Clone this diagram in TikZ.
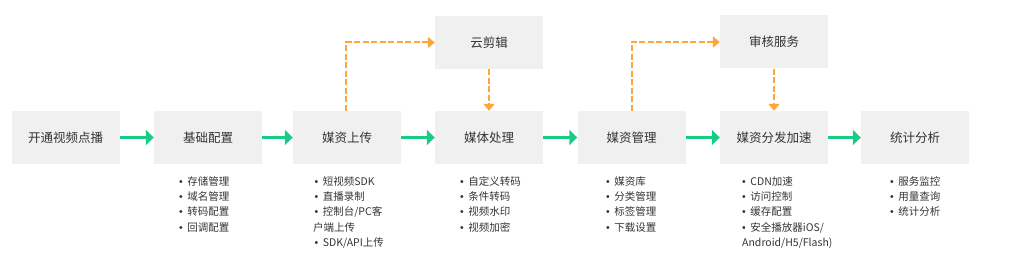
\documentclass[tikz,border=0pt]{standalone}
\usepackage{fontspec}
\setmainfont{Noto Sans CJK SC}
\newfontfamily\bulfont{Liberation Sans}
\newcommand\itembul{{\bulfont •}\hspace{4.5pt}}
\usetikzlibrary{arrows.meta}
\definecolor{boxgray}{HTML}{F0F0F0}
\definecolor{txtgray}{HTML}{333333}
\definecolor{flowgreen}{HTML}{19CC86}
\definecolor{dashorange}{HTML}{FFA53A}
\tikzset{
  stagebox/.style={fill=boxgray, minimum width=108pt, minimum height=53pt, inner sep=0pt, font=\fontsize{12.5}{14}\selectfont, text=txtgray},
  itemlist/.style={anchor=north west, align=left, inner sep=0pt, font=\fontsize{10.5}{15.4}\selectfont, text=txtgray},
  flowarrow/.style={draw=flowgreen, line width=3pt, -{Triangle[length=8pt,width=15pt]}},
  extarrow/.style={draw=dashorange, line width=2pt, dash pattern=on 6pt off 2.5pt, -{Triangle[length=7pt,width=11pt]}}
}
\begin{document}
\begin{tikzpicture}[x=1pt,y=-1pt]
\useasboundingbox (0,0) rectangle (1009,262);
\node[stagebox] (b1) at (65.5,137.5) {开通视频点播};
\node[stagebox] (b2) at (208,137.5) {基础配置};
\node[stagebox] (b3) at (347,137.5) {媒资上传};
\node[stagebox] (b4) at (489,137.5) {媒体处理};
\node[stagebox] (b5) at (631.5,137.5) {媒资管理};
\node[stagebox] (b6) at (774,137.5) {媒资分发加速};
\node[stagebox] (b7) at (915,137.5) {统计分析};
\node[stagebox] (t1) at (489,42.5) {云剪辑};
\node[stagebox] (t2) at (774,42) {审核服务};

\draw[flowarrow] (b1) -- (b2);
\draw[flowarrow] (b2) -- (b3);
\draw[flowarrow] (b3) -- (b4);
\draw[flowarrow] (b4) -- (b5);
\draw[flowarrow] (b5) -- (b6);
\draw[flowarrow] (b6) -- (b7);

\draw[extarrow] ([xshift=-1pt]b3.north) |- (t1.west);
\draw[extarrow] (t1.south) -- (b4.north);
\draw[extarrow] (b5.north) |- (t2.west);
\draw[extarrow] (t2.south) -- (b6.north);

\node[itemlist] (l2) at (179,176) {\itembul 存储管理\\\itembul 域名管理\\\itembul 转码配置\\\itembul 回调配置};
\node[itemlist] (l3) at (313,176) {\hspace{1.5pt}\itembul 短视频SDK\\\hspace{1.5pt}\itembul 直播录制\\\hspace{1.5pt}\itembul 控制台/PC客\\户端上传\\\hspace{1.5pt}\itembul SDK/API上传};
\node[itemlist] (l4) at (460,176) {\itembul 自定义转码\\\itembul 条件转码\\\itembul 视频水印\\\itembul 视频加密};
\node[itemlist] (l5) at (606,176) {\itembul 媒资库\\\itembul 分类管理\\\itembul 标签管理\\\itembul 下载设置};
\node[itemlist] (l6) at (742,176) {\itembul CDN加速\\\itembul 访问控制\\\itembul 缓存配置\\\itembul 安全播放器iOS/\\Android/H5/Flash)};
\node[itemlist] (l7) at (890,176) {\itembul 服务监控\\\itembul 用量查询\\\itembul 统计分析};
\end{tikzpicture}
\end{document}
